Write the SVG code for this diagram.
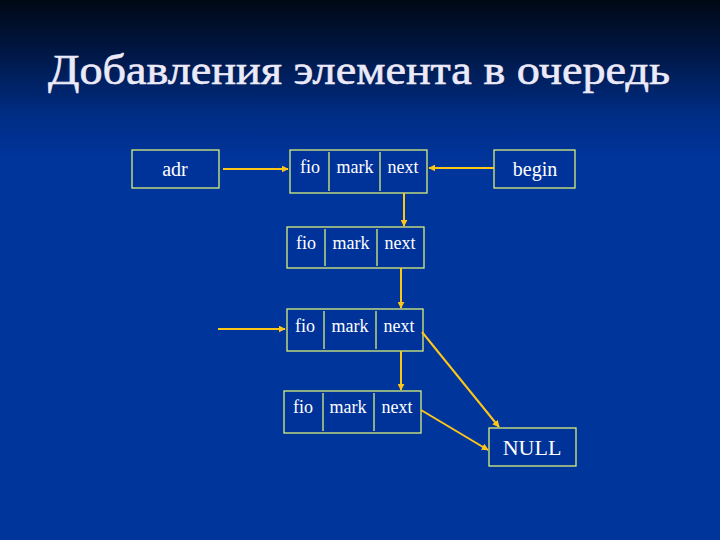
<svg xmlns="http://www.w3.org/2000/svg" width="720" height="540" viewBox="0 0 720 540">
<defs>
<linearGradient id="bg" x1="0" y1="0" x2="0" y2="1" gradientUnits="objectBoundingBox">
<stop offset="0" stop-color="#000814"/>
<stop offset="0.08" stop-color="#00143c"/>
<stop offset="0.22" stop-color="#002e88"/>
<stop offset="0.3" stop-color="#00359c"/>
<stop offset="1" stop-color="#00359c"/>
</linearGradient>
<marker id="ah" viewBox="0 0 10 10" refX="9" refY="5" markerWidth="7" markerHeight="7" markerUnits="userSpaceOnUse" orient="auto">
<path d="M0,0 L10,5 L0,10 Z" fill="#ffc61a"/>
</marker>
<style>
.box{fill:#00339a;stroke:#d8f07a;stroke-width:1.3}
.div{stroke:#d8f07a;stroke-width:1.3}
.t{font-family:"Liberation Serif",serif;fill:#ffffff;text-anchor:middle}
.f{font-size:18px}
.c{stroke:#ffc61a;stroke-width:2;fill:none;marker-end:url(#ah)}
</style>
</defs>
<rect width="720" height="540" fill="url(#bg)"/>
<text x="359" y="84" class="t" font-size="42" textLength="622" lengthAdjust="spacingAndGlyphs" stroke="#eceaf8" stroke-width="0.6" style="fill:#eceaf8">Добавления элемента в очередь</text>

<g id="adr">
<rect class="box" x="132" y="150" width="87" height="38"/>
<text class="t" x="175" y="176" font-size="20">adr</text>
</g>
<g id="begin">
<rect class="box" x="494" y="150" width="81" height="38"/>
<text class="t" x="535" y="176" font-size="20">begin</text>
</g>
<g id="node1">
<rect class="box" x="290" y="150" width="137" height="43"/>
<line class="div" x1="329" y1="152" x2="329" y2="191"/>
<line class="div" x1="380" y1="152" x2="380" y2="191"/>
<text class="t f" x="310" y="173">fio</text>
<text class="t f" x="355" y="173">mark</text>
<text class="t f" x="403" y="173">next</text>
</g>
<g id="node2">
<rect class="box" x="287" y="227" width="137" height="41"/>
<line class="div" x1="325" y1="229" x2="325" y2="266"/>
<line class="div" x1="377" y1="229" x2="377" y2="266"/>
<text class="t f" x="306" y="249">fio</text>
<text class="t f" x="351" y="249">mark</text>
<text class="t f" x="400" y="249">next</text>
</g>
<g id="node3">
<rect class="box" x="287" y="309" width="136" height="42"/>
<line class="div" x1="324" y1="311" x2="324" y2="349"/>
<line class="div" x1="376" y1="311" x2="376" y2="349"/>
<text class="t f" x="305" y="332">fio</text>
<text class="t f" x="350" y="332">mark</text>
<text class="t f" x="399" y="332">next</text>
</g>
<g id="node4">
<rect class="box" x="284" y="391" width="137" height="42"/>
<line class="div" x1="323" y1="393" x2="323" y2="431"/>
<line class="div" x1="374" y1="393" x2="374" y2="431"/>
<text class="t f" x="303" y="413">fio</text>
<text class="t f" x="348" y="413">mark</text>
<text class="t f" x="397" y="413">next</text>
</g>
<g id="null">
<rect class="box" x="489" y="428" width="87" height="38"/>
<text class="t" x="532" y="455" font-size="22">NULL</text>
</g>

<g id="connectors">
<line class="c" x1="223" y1="169" x2="288" y2="169"/>
<line class="c" x1="494" y1="168" x2="429" y2="168"/>
<line class="c" x1="404" y1="193" x2="404" y2="226"/>
<line class="c" x1="401" y1="268" x2="401" y2="308"/>
<line class="c" x1="218" y1="329" x2="285" y2="329"/>
<line class="c" x1="401" y1="351" x2="401" y2="390"/>
<line class="c" x1="422" y1="332" x2="499" y2="427"/>
<line class="c" x1="421" y1="410" x2="488" y2="450"/>
</g>
</svg>
